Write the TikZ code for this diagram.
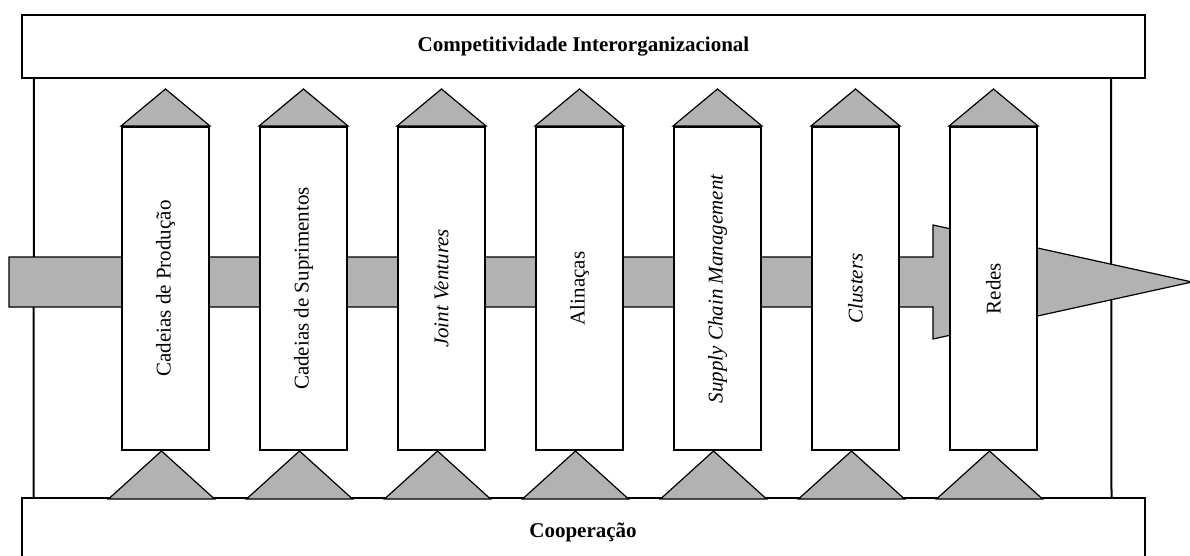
\documentclass[tikz,border=0pt]{standalone}
\usepackage{fontspec}
\setmainfont{Liberation Serif}
\usetikzlibrary{calc}
\definecolor{cinza}{RGB}{178,178,178}

\begin{document}
\begin{tikzpicture}[x=0.5pt, y=-0.5pt, font=\fontsize{10.5}{12}\selectfont]
    \tikzstyle{faixa}=[draw, line width=1pt, fill=white, minimum width=561.5pt, inner sep=0pt]
    \tikzstyle{coluna}=[draw, line width=1pt, fill=white, minimum width=43.5pt, minimum height=161.5pt, inner sep=0pt]
    \tikzstyle{seta}=[draw, line width=0.6pt, fill=cinza, line join=miter]

    \clip (0,0) rectangle (1190,556);

    % Faixas
    \node[faixa, minimum height=31.5pt] (comp) at (583.5,46.5) {\textbf{Competitividade Interorganizacional}};
    \node[faixa, minimum height=34pt] (coop) at (583,532) {\textbf{Cooperação}};
    \draw[line width=1pt] ($(comp.south west)+(13,0)$) -- ($(coop.north west)+(13,0)$);
    \draw[line width=1pt] ($(comp.south east)+(-35,0)$) -- ($(coop.north east)+(-34,0)$);

    % Seta horizontal
    \filldraw[seta] (9,257) -- (933,257) -- (933,225) -- (1192,282) -- (933,339) -- (933,307) -- (9,307) -- cycle;

    % Colunas
    \foreach \i/\txt in {1/{Cadeias de Produção}, 2/{Cadeias de Suprimentos}, 3/{\textit{Joint Ventures}},
                         4/{Alinaças}, 5/{\textit{Supply Chain Management}}, 6/{\textit{Clusters}}, 7/{Redes}}
    {
        \node[coluna] (c\i) at ({27.5+138*\i},288.5) {\rotatebox{90}{\txt}};
        \filldraw[seta] (c\i.north west) -- ($(c\i.north)+(0,-37)$) -- (c\i.north east) -- cycle;
        \filldraw[seta] ($(c\i.south)+(-57,48)$) -- ($(c\i.south)+(-4,0)$) -- ($(c\i.south)+(49,48)$) -- cycle;
    }
\end{tikzpicture}
\end{document}
